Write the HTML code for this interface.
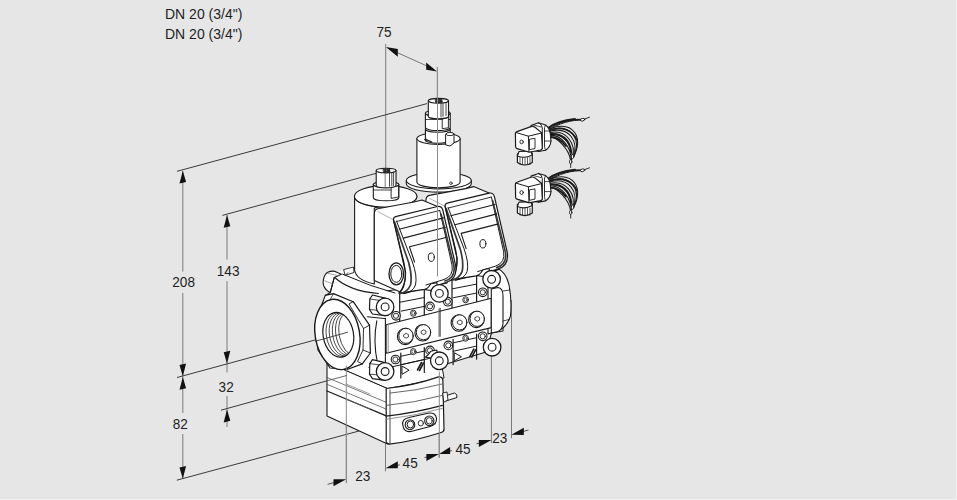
<!DOCTYPE html>
<html><head><meta charset="utf-8">
<style>
html,body{margin:0;padding:0;}
body{width:957px;height:500px;background:#f2f2f2;position:relative;overflow:hidden;font-family:"Liberation Sans",sans-serif;}
#bg{position:absolute;left:0;top:0;width:956px;height:499px;background:#e6e6e6;}
.t{position:absolute;font-size:14px;color:#1e1e1e;line-height:16px;white-space:nowrap;}
svg{position:absolute;left:0;top:0;}
</style></head><body>
<div id="bg"></div>
<div class="t" style="left:165px;top:6px;">DN 20 (3/4")</div>
<div class="t" style="left:165px;top:26px;">DN 20 (3/4")</div>
<svg width="957" height="500" viewBox="0 0 957 500">
<g fill="none" stroke-width="1">
<line x1="385.7" y1="44" x2="385.7" y2="172" stroke="#7a7a7a"/>
<line x1="437.3" y1="67" x2="437.3" y2="98" stroke="#7a7a7a"/>
<line x1="397" y1="52.5" x2="427" y2="66" stroke="#777"/>
<line x1="182.8" y1="171" x2="182.8" y2="271.5" stroke="#7a7a7a"/>
<line x1="182.8" y1="293" x2="182.8" y2="413" stroke="#7a7a7a"/>
<line x1="182.8" y1="434" x2="182.8" y2="479" stroke="#7a7a7a"/>
<line x1="227" y1="215" x2="227" y2="259.6" stroke="#7a7a7a"/>
<line x1="227" y1="281.2" x2="227" y2="372.4" stroke="#7a7a7a"/>
<line x1="227" y1="396" x2="227" y2="427" stroke="#7a7a7a"/>
<line x1="177" y1="171.3" x2="427" y2="103.6" stroke="#3a3a3a"/>
<line x1="222.4" y1="215.4" x2="376.6" y2="173.2" stroke="#3a3a3a"/>
<line x1="177" y1="377.5" x2="326" y2="337" stroke="#3a3a3a"/>
<line x1="221" y1="410.2" x2="326.4" y2="381" stroke="#3a3a3a"/>
<line x1="176.8" y1="480.2" x2="359" y2="431" stroke="#3a3a3a"/>
<line x1="346.4" y1="361" x2="346.4" y2="482.8" stroke="#7a7a7a"/>
<line x1="385.5" y1="444" x2="385.5" y2="471.3" stroke="#7a7a7a"/>
<line x1="439.2" y1="360" x2="439.2" y2="457.6" stroke="#7a7a7a"/>
<line x1="491.4" y1="350" x2="491.4" y2="443" stroke="#7a7a7a"/>
<line x1="511.5" y1="300" x2="511.5" y2="438.2" stroke="#7a7a7a"/>
<line x1="327.6" y1="484.3" x2="334" y2="482.6" stroke="#555"/>
<line x1="397" y1="465.6" x2="399.8" y2="464.8" stroke="#555"/>
<line x1="424.4" y1="457.6" x2="427" y2="456.9" stroke="#555"/>
<line x1="449" y1="451.3" x2="452" y2="450.5" stroke="#555"/>
<line x1="476.4" y1="443.8" x2="479.5" y2="443" stroke="#555"/>
<line x1="523" y1="431.5" x2="528.5" y2="430" stroke="#555"/>
</g>
<g fill="#111">
<polygon points="385.9,47 397.8,49.1 397.8,56.8"/>
<polygon points="437,71.5 426.2,62.4 426.2,69.7"/>
<polygon points="182.8,170.8 179.5,183.6 186.1,182.0"/>
<polygon points="182.8,376.2 179.5,365.0 186.1,363.4"/>
<polygon points="182.8,377.0 179.5,389.8 186.1,388.2"/>
<polygon points="182.8,478.8 179.5,467.6 186.1,466.0"/>
<polygon points="227.0,215.0 223.7,227.8 230.3,226.2"/>
<polygon points="227.0,363.5 223.7,352.3 230.3,350.7"/>
<polygon points="227.0,409.6 223.7,422.4 230.3,420.8"/>
<polygon points="346.2,479.3 333.5,479.2 333.5,486.3"/>
<polygon points="385.6,468.2 397.8,468.3 397.8,461.2"/>
<polygon points="439.1,454.0 426.4,453.9 426.4,461.0"/>
<polygon points="439.1,454.0 450.1,454.1 450.1,447.0"/>
<polygon points="491.5,440.0 478.8,439.9 478.8,447.0"/>
<polygon points="511.3,434.8 523.8,434.9 523.8,427.8"/>
</g>
<g fill="#1e1e1e" font-family="Liberation Sans">
<text transform="translate(376.5 37) scale(1 1.09)" x="0" y="0" font-size="13.6">75</text>
<text transform="translate(172.3 286.5) scale(1 1.09)" x="0" y="0" font-size="13.6">208</text>
<text transform="translate(216.8 275.8) scale(1 1.09)" x="0" y="0" font-size="13.6">143</text>
<text transform="translate(218.6 391.6) scale(1 1.09)" x="0" y="0" font-size="13.6">32</text>
<text transform="translate(172.8 428.9) scale(1 1.09)" x="0" y="0" font-size="13.6">82</text>
<text transform="translate(355.3 481.4) scale(1 1.09)" x="0" y="0" font-size="13.6">23</text>
<text transform="translate(402.6 467.8) scale(1 1.09)" x="0" y="0" font-size="13.6">45</text>
<text transform="translate(455.5 454.1) scale(1 1.09)" x="0" y="0" font-size="13.6">45</text>
<text transform="translate(492.3 443.2) scale(1 1.09)" x="0" y="0" font-size="13.6">23</text>
</g>
<g stroke-linejoin="round" stroke-linecap="round">
<path d="M333,274 L352,266 L380,276 L420,282 L440,285 L440,300 L372,300 L330,290 Z" fill="white" stroke="none" stroke-width="0"/>
<path d="M372,293 L430,285 L497,268 L503,290 L503,331 L491.5,333 L486,352 L440,366 L386,381 L376,377 L372,330 Z" fill="white" stroke="#1a1a1a" stroke-width="1.1"/>
<path d="M488,268 L497,268 Q506,272 509,285 Q512,300 510.5,316 Q507,327 498,331 L488,334 Z" fill="white" stroke="#1a1a1a" stroke-width="1.1"/>
<path d="M406.3,180.6 L406.3,183.8 A32.5,8.3 0 0 0 471.3,183.8 L471.3,180.6 Z" fill="white" stroke="#1a1a1a" stroke-width="1.1"/>
<ellipse cx="438.8" cy="180.6" rx="32.5" ry="8.3" fill="white" stroke="#1a1a1a" stroke-width="1.1"/>
<path d="M416.9,138.6 L416.9,182.0 A21.6,5.8 0 0 0 460.1,182.0 L460.1,138.6 Z" fill="white" stroke="#1a1a1a" stroke-width="1.1"/>
<ellipse cx="438.5" cy="138.6" rx="21.6" ry="5.8" fill="white" stroke="#1a1a1a" stroke-width="1.1"/>
<ellipse cx="450.9" cy="183.2" rx="1.3" ry="1.3" fill="white" stroke="#1a1a1a" stroke-width="0.8"/>
<path d="M425.4,129.0 L425.4,140.0 A12.4,3.2 0 0 0 450.2,140.0 L450.2,129.0 Z" fill="white" stroke="#1a1a1a" stroke-width="1.1"/>
<ellipse cx="437.8" cy="129.0" rx="12.4" ry="3.2" fill="white" stroke="#1a1a1a" stroke-width="1.1"/>
<path d="M425.4,113.2 L425.4,127.6 A12.4,3.0 0 0 0 450.2,127.6 L450.2,113.2 Z" fill="white" stroke="#1a1a1a" stroke-width="1.1"/>
<ellipse cx="437.8" cy="113.2" rx="12.4" ry="3.0" fill="white" stroke="#1a1a1a" stroke-width="1.1"/>
<line x1="425.4" y1="119.5" x2="450.2" y2="119.5" stroke="#1a1a1a" stroke-width="0.8"/>
<path d="M442.6,116.5 L448.4,115.8 L448.4,127.8 L442.6,128.6 Z" fill="white" stroke="#1a1a1a" stroke-width="0.9"/>
<path d="M446,134 L450,132.5 Q454,133 454,135 L454,143 L450,146 L446,145 Z" fill="white" stroke="#1a1a1a" stroke-width="1"/>
<ellipse cx="450.0" cy="134.0" rx="4.0" ry="1.6" fill="white" stroke="#1a1a1a" stroke-width="0.9"/>
<path d="M424.5,139.5 L427,139 L426.5,141 Z" fill="#222" stroke="#1a1a1a" stroke-width="0.6"/>
<line x1="427.5" y1="140.2" x2="431.5" y2="141.8" stroke="#333" stroke-width="1.3"/>
<path d="M428.3,100.8 L428.3,116.4 A10.1,2.4 0 0 0 448.5,116.4 L448.5,100.8 Z" fill="white" stroke="#1a1a1a" stroke-width="1.1"/>
<ellipse cx="438.4" cy="100.8" rx="10.1" ry="2.4" fill="white" stroke="#1a1a1a" stroke-width="1.1"/>
<path d="M435.5,99.5 L441.8,99.2 L442.3,102.3 L436.2,102.7 Z" fill="#333" stroke="#1a1a1a" stroke-width="0.8"/>
<ellipse cx="438.9" cy="101.0" rx="1.3" ry="0.8" fill="#888" stroke="#1a1a1a" stroke-width="0.6"/>
<line x1="441.0" y1="103.0" x2="441.0" y2="117.0" stroke="#1a1a1a" stroke-width="0.8"/>
<line x1="443.0" y1="103.0" x2="443.0" y2="116.5" stroke="#1a1a1a" stroke-width="0.8"/>
<line x1="446.0" y1="102.5" x2="446.0" y2="115.5" stroke="#1a1a1a" stroke-width="0.8"/>
<path d="M425.9,200.6 Q425.9,195.4 430.6,195.1 L465.6,188.6 L473.6,186.6 L492.6,194.6 L503.6,252.6 L498.6,269.6 L455.1,280.1 L425.9,267.1 Z" fill="white" stroke="#1a1a1a" stroke-width="1.1"/>
<line x1="429.6" y1="198.4" x2="444.2" y2="205.9" stroke="#9a9a9a" stroke-width="0.8"/>
<path d="M445.1,206.6 Q444.6,203.6 448.1,202.9 L489.1,193.1 Q493.1,192.4 494.4,196.6 L507.1,251.6 Q509.6,265.6 497.6,269.1 L476.3,275.9 L450.6,279.8 Q457.6,271.6 457.1,258.6 Z" fill="white" stroke="#1a1a1a" stroke-width="1.2"/>
<path d="M448.1,208.1 L491.1,197.1" fill="none" stroke="#1a1a1a" stroke-width="0.9"/>
<path d="M448.1,207.6 L464.0,248.6 Q469.1,262.6 467.1,271.6 Q464.6,278.6 455.6,280.2" fill="none" stroke="#1a1a1a" stroke-width="1.0"/>
<path d="M446.1,208.6 L460.1,248.6 Q464.1,262.6 462.1,271.6 Q459.1,278.6 452.1,280.1" fill="none" stroke="#3a3a3a" stroke-width="1.7"/>
<path d="M445.1,206.6 L455.4,248.6 Q458.6,262.6 455.1,273.6 Q453.1,278.1 450.6,279.8" fill="none" stroke="#1a1a1a" stroke-width="1.1"/>
<path d="M491.4,197.1 L503.6,251.6 Q505.6,262.6 495.6,266.1 L477.6,271.6" fill="none" stroke="#1a1a1a" stroke-width="1.0"/>
<path d="M492.6,200.6 L505.4,252.1 Q507.6,264.1 496.6,267.6" fill="none" stroke="#3a3a3a" stroke-width="1.7"/>
<line x1="450.8" y1="215.8" x2="495.0" y2="204.5" stroke="#1a1a1a" stroke-width="1.1"/>
<line x1="455.0" y1="224.7" x2="496.9" y2="213.9" stroke="#1a1a1a" stroke-width="1.1"/>
<path d="M497.6,224.1 L461.1,233.4 L466.1,248.6" fill="none" stroke="#1a1a1a" stroke-width="1.1"/>
<ellipse cx="482.9" cy="243.8" rx="3.0" ry="4.2" fill="white" stroke="#1a1a1a" stroke-width="1"/>
<path d="M354.6,196.4 L354.6,270 Q356,280 374.3,284 L374.3,208 L417,196.4 Z" fill="white" stroke="#1a1a1a" stroke-width="1.1"/>
<ellipse cx="385.7" cy="196.4" rx="31.3" ry="10.8" fill="white" stroke="#1a1a1a" stroke-width="1.1"/>
<path d="M354.8,198 A31.1,10.6 0 0 0 416.6,198" fill="none" stroke="#1a1a1a" stroke-width="0.8"/>
<path d="M373.3,184.5 L373.3,197.8 A12.8,3.0 0 0 0 398.9,197.8 L398.9,184.5 Z" fill="white" stroke="#1a1a1a" stroke-width="1.1"/>
<ellipse cx="386.1" cy="184.5" rx="12.8" ry="3.0" fill="white" stroke="#1a1a1a" stroke-width="1.1"/>
<line x1="373.3" y1="190.0" x2="398.9" y2="190.0" stroke="#1a1a1a" stroke-width="0.8"/>
<path d="M391.5,187 L398.5,186 L398.5,197 L391.5,198.3 Z" fill="white" stroke="#1a1a1a" stroke-width="0.9"/>
<path d="M376.2,170.6 L376.2,185.6 A9.9,2.3 0 0 0 396.0,185.6 L396.0,170.6 Z" fill="white" stroke="#1a1a1a" stroke-width="1.1"/>
<ellipse cx="386.1" cy="170.6" rx="9.9" ry="2.3" fill="white" stroke="#1a1a1a" stroke-width="1.1"/>
<path d="M383.3,169.3 L389.5,169 L390,172 L384,172.5 Z" fill="#333" stroke="#1a1a1a" stroke-width="0.8"/>
<ellipse cx="386.6" cy="170.7" rx="1.3" ry="0.8" fill="#888" stroke="#1a1a1a" stroke-width="0.6"/>
<line x1="385.2" y1="172.8" x2="385.2" y2="186.5" stroke="#444" stroke-width="0.7"/>
<line x1="389.5" y1="172.5" x2="389.5" y2="186.3" stroke="#1a1a1a" stroke-width="0.8"/>
<line x1="391.8" y1="172.4" x2="391.8" y2="186.0" stroke="#1a1a1a" stroke-width="0.8"/>
<line x1="393.6" y1="172.0" x2="393.6" y2="185.5" stroke="#1a1a1a" stroke-width="0.8"/>
<path d="M374.3,214.0 Q374.3,208.8 379.0,208.5 L414.0,202.0 L422.0,200.0 L441.0,208.0 L452.0,266.0 L447.0,283.0 L403.5,293.5 L374.3,280.5 Z" fill="white" stroke="#1a1a1a" stroke-width="1.1"/>
<line x1="378.0" y1="211.8" x2="392.6" y2="219.3" stroke="#9a9a9a" stroke-width="0.8"/>
<path d="M393.5,220.0 Q393.0,217.0 396.5,216.3 L437.5,206.5 Q441.5,205.8 442.8,210.0 L455.5,265.0 Q458.0,279.0 446.0,282.5 L424.7,289.3 L399.0,293.2 Q406.0,285.0 405.5,272.0 Z" fill="white" stroke="#1a1a1a" stroke-width="1.2"/>
<path d="M396.5,221.5 L439.5,210.5" fill="none" stroke="#1a1a1a" stroke-width="0.9"/>
<path d="M396.5,221.0 L412.4,262.0 Q417.5,276.0 415.5,285.0 Q413.0,292.0 404.0,293.6" fill="none" stroke="#1a1a1a" stroke-width="1.0"/>
<path d="M394.5,222.0 L408.5,262.0 Q412.5,276.0 410.5,285.0 Q407.5,292.0 400.5,293.5" fill="none" stroke="#3a3a3a" stroke-width="1.7"/>
<path d="M393.5,220.0 L403.8,262.0 Q407.0,276.0 403.5,287.0 Q401.5,291.5 399.0,293.2" fill="none" stroke="#1a1a1a" stroke-width="1.1"/>
<path d="M439.8,210.5 L452.0,265.0 Q454.0,276.0 444.0,279.5 L426.0,285.0" fill="none" stroke="#1a1a1a" stroke-width="1.0"/>
<path d="M441.0,214.0 L453.8,265.5 Q456.0,277.5 445.0,281.0" fill="none" stroke="#3a3a3a" stroke-width="1.7"/>
<line x1="399.2" y1="229.2" x2="443.4" y2="217.9" stroke="#1a1a1a" stroke-width="1.1"/>
<line x1="403.4" y1="238.1" x2="445.3" y2="227.3" stroke="#1a1a1a" stroke-width="1.1"/>
<path d="M446.0,237.5 L409.5,246.8 L414.5,262.0" fill="none" stroke="#1a1a1a" stroke-width="1.1"/>
<ellipse cx="431.3" cy="257.2" rx="3.0" ry="4.2" fill="white" stroke="#1a1a1a" stroke-width="1"/>
<ellipse cx="396.3" cy="273.9" rx="7.3" ry="11.0" fill="white" stroke="#1a1a1a" stroke-width="1.3"/>
<ellipse cx="396.3" cy="273.9" rx="5.5" ry="8.5" fill="white" stroke="#1a1a1a" stroke-width="1"/>
<path d="M327,362 L388.1,388.5 L388.1,444.2 L327,416 Z" fill="white" stroke="#1a1a1a" stroke-width="1.1"/>
<path d="M327,362 L335,357 L378,370 L440,356 L444,378 L388.1,388.5 Z" fill="white" stroke="#1a1a1a" stroke-width="1.0"/>
<line x1="327.0" y1="377.5" x2="388.1" y2="403.1" stroke="#555" stroke-width="0.8"/>
<line x1="327.0" y1="384.3" x2="388.1" y2="409.9" stroke="#555" stroke-width="0.8"/>
<line x1="327.0" y1="391.0" x2="388.1" y2="416.6" stroke="#1a1a1a" stroke-width="1.3"/>
<line x1="346.0" y1="384.0" x2="370.0" y2="394.0" stroke="#777" stroke-width="0.7"/>
<line x1="346.0" y1="399.0" x2="370.0" y2="409.0" stroke="#777" stroke-width="0.7"/>
<path d="M386.2,388.5 Q412,386 438.6,376.9 Q442.9,376.5 442.9,381 L444,429.3 Q444,432 441,432.5 Q415,441 389.2,444.2 L386.2,442.4 Z" fill="white" stroke="#1a1a1a" stroke-width="1.2"/>
<line x1="390.0" y1="390.0" x2="390.0" y2="443.5" stroke="#1a1a1a" stroke-width="0.8"/>
<path d="M390,393.1 Q416,391 442.4,383.9" fill="none" stroke="#555" stroke-width="0.9"/>
<path d="M386.2,405.4 Q414,403 442.4,395.4" fill="none" stroke="#555" stroke-width="0.9"/>
<path d="M386.2,416.2 Q414,413 442.4,405.4" fill="none" stroke="#1a1a1a" stroke-width="1.3"/>
<path d="M386.2,419.3 Q414,416 442.4,408.4" fill="none" stroke="#777" stroke-width="0.8"/>
<path d="M403,426 Q401,419 409,417.5 L428,413.2 Q436,412 436.5,418.5 Q437,424.5 430,426.5 L411,431.5 Q404,432.5 403,426 Z" fill="white" stroke="#1a1a1a" stroke-width="1.1"/>
<ellipse cx="410.0" cy="424.7" rx="4.8" ry="5.0" fill="white" stroke="#1a1a1a" stroke-width="1.1"/>
<ellipse cx="410.4" cy="424.5" rx="3.2" ry="3.5" fill="white" stroke="#1a1a1a" stroke-width="1"/>
<ellipse cx="420.8" cy="423.2" rx="2.6" ry="2.8" fill="white" stroke="#1a1a1a" stroke-width="0.9"/>
<ellipse cx="429.3" cy="420.8" rx="4.6" ry="4.8" fill="white" stroke="#1a1a1a" stroke-width="1.1"/>
<ellipse cx="429.3" cy="420.8" rx="3.0" ry="3.2" fill="white" stroke="#1a1a1a" stroke-width="0.9"/>
<path d="M445,396 L454.5,393 Q457.5,394 457,397.5 L446,401 Z" fill="white" stroke="#1a1a1a" stroke-width="1"/>
<path d="M443,393 L447,392 L448,400 L444,402 Z" fill="white" stroke="#1a1a1a" stroke-width="0.9"/>
<path d="M386.1,324.7 L491.3,298.3 L491.3,327.6 L386.1,353.2 Z" fill="white" stroke="#1a1a1a" stroke-width="1.1"/>
<line x1="440.0" y1="308.4" x2="440.0" y2="336.3" stroke="#1a1a1a" stroke-width="1.1"/>
<line x1="438.6" y1="309.0" x2="438.6" y2="336.5" stroke="#888" stroke-width="0.7"/>
<line x1="388.2" y1="324.5" x2="388.2" y2="352.8" stroke="#777" stroke-width="0.8"/>
<path d="M491.3,289 L498,287.5 Q503,288 503,296 L503,324 Q502,331 496,332 L491.3,333 Z" fill="white" stroke="#1a1a1a" stroke-width="1.1"/>
<line x1="503.0" y1="291.0" x2="510.0" y2="290.0" stroke="#1a1a1a" stroke-width="0.8"/>
<line x1="503.0" y1="321.0" x2="509.0" y2="319.5" stroke="#1a1a1a" stroke-width="0.8"/>
<line x1="399.7" y1="294.0" x2="399.7" y2="321.2" stroke="#1a1a1a" stroke-width="1.2"/>
<line x1="424.3" y1="289.5" x2="424.3" y2="315.0" stroke="#1a1a1a" stroke-width="1.2"/>
<line x1="400.2" y1="302.2" x2="424.3" y2="297.5" stroke="#1a1a1a" stroke-width="1"/>
<line x1="401.3" y1="311.1" x2="424.3" y2="306.4" stroke="#1a1a1a" stroke-width="1"/>
<ellipse cx="413.3" cy="313.2" rx="2.8" ry="3.1" fill="white" stroke="#1a1a1a" stroke-width="0.9"/>
<ellipse cx="413.3" cy="313.2" rx="1.5" ry="1.8" fill="white" stroke="#1a1a1a" stroke-width="0.7"/>
<line x1="400.8" y1="353.0" x2="400.8" y2="378.0" stroke="#1a1a1a" stroke-width="1.2"/>
<line x1="424.3" y1="347.5" x2="424.3" y2="372.5" stroke="#1a1a1a" stroke-width="1.2"/>
<line x1="400.8" y1="356.3" x2="424.3" y2="351.1" stroke="#1a1a1a" stroke-width="1"/>
<line x1="400.8" y1="364.7" x2="424.3" y2="359.5" stroke="#1a1a1a" stroke-width="1"/>
<ellipse cx="413.3" cy="351.6" rx="2.8" ry="3.1" fill="white" stroke="#1a1a1a" stroke-width="0.9"/>
<ellipse cx="413.3" cy="351.6" rx="1.5" ry="1.8" fill="white" stroke="#1a1a1a" stroke-width="0.7"/>
<path d="M402.3,366.3 L409.1,370.2 L402.3,374.1 Z" fill="none" stroke="#1a1a1a" stroke-width="1"/>
<line x1="417.5" y1="370.0" x2="421.5" y2="362.5" stroke="#1a1a1a" stroke-width="1.6"/>
<line x1="419.5" y1="370.5" x2="423.5" y2="363.0" stroke="#1a1a1a" stroke-width="1.6"/>
<ellipse cx="405.2" cy="336.4" rx="7.8" ry="8.2" fill="white" stroke="#1a1a1a" stroke-width="1.1"/>
<ellipse cx="406.0" cy="335.8" rx="7.2" ry="7.6" fill="white" stroke="#1a1a1a" stroke-width="1.0"/>
<path d="M404.0,334.6 l2.2,-1.2 l2.2,1.2 l0,2.4 l-2.2,1.2 l-2.2,-1.2 Z" fill="none" stroke="#1a1a1a" stroke-width="0.8"/>
<ellipse cx="422.7" cy="332.8" rx="7.8" ry="8.2" fill="white" stroke="#1a1a1a" stroke-width="1.1"/>
<ellipse cx="423.5" cy="332.2" rx="7.2" ry="7.6" fill="white" stroke="#1a1a1a" stroke-width="1.0"/>
<path d="M421.5,331.0 l2.2,-1.2 l2.2,1.2 l0,2.4 l-2.2,1.2 l-2.2,-1.2 Z" fill="none" stroke="#1a1a1a" stroke-width="0.8"/>
<line x1="452.0" y1="280.6" x2="452.0" y2="307.8" stroke="#1a1a1a" stroke-width="1.2"/>
<line x1="476.6" y1="276.1" x2="476.6" y2="301.6" stroke="#1a1a1a" stroke-width="1.2"/>
<line x1="452.5" y1="288.8" x2="476.6" y2="284.1" stroke="#1a1a1a" stroke-width="1"/>
<line x1="453.6" y1="297.7" x2="476.6" y2="293.0" stroke="#1a1a1a" stroke-width="1"/>
<ellipse cx="465.6" cy="299.8" rx="2.8" ry="3.1" fill="white" stroke="#1a1a1a" stroke-width="0.9"/>
<ellipse cx="465.6" cy="299.8" rx="1.5" ry="1.8" fill="white" stroke="#1a1a1a" stroke-width="0.7"/>
<line x1="453.1" y1="339.6" x2="453.1" y2="364.6" stroke="#1a1a1a" stroke-width="1.2"/>
<line x1="476.6" y1="334.1" x2="476.6" y2="359.1" stroke="#1a1a1a" stroke-width="1.2"/>
<line x1="453.1" y1="342.9" x2="476.6" y2="337.7" stroke="#1a1a1a" stroke-width="1"/>
<line x1="453.1" y1="351.3" x2="476.6" y2="346.1" stroke="#1a1a1a" stroke-width="1"/>
<ellipse cx="465.6" cy="338.2" rx="2.8" ry="3.1" fill="white" stroke="#1a1a1a" stroke-width="0.9"/>
<ellipse cx="465.6" cy="338.2" rx="1.5" ry="1.8" fill="white" stroke="#1a1a1a" stroke-width="0.7"/>
<path d="M454.6,352.9 L461.4,356.8 L454.6,360.7 Z" fill="none" stroke="#1a1a1a" stroke-width="1"/>
<line x1="469.8" y1="356.6" x2="473.8" y2="349.1" stroke="#1a1a1a" stroke-width="1.6"/>
<line x1="471.8" y1="357.1" x2="475.8" y2="349.6" stroke="#1a1a1a" stroke-width="1.6"/>
<ellipse cx="458.9" cy="323.0" rx="7.8" ry="8.2" fill="white" stroke="#1a1a1a" stroke-width="1.1"/>
<ellipse cx="459.7" cy="322.4" rx="7.2" ry="7.6" fill="white" stroke="#1a1a1a" stroke-width="1.0"/>
<path d="M457.7,321.2 l2.2,-1.2 l2.2,1.2 l0,2.4 l-2.2,1.2 l-2.2,-1.2 Z" fill="none" stroke="#1a1a1a" stroke-width="0.8"/>
<ellipse cx="476.4" cy="319.4" rx="7.8" ry="8.2" fill="white" stroke="#1a1a1a" stroke-width="1.1"/>
<ellipse cx="477.2" cy="318.8" rx="7.2" ry="7.6" fill="white" stroke="#1a1a1a" stroke-width="1.0"/>
<path d="M475.2,317.6 l2.2,-1.2 l2.2,1.2 l0,2.4 l-2.2,1.2 l-2.2,-1.2 Z" fill="none" stroke="#1a1a1a" stroke-width="0.8"/>
<ellipse cx="396.0" cy="315.8" rx="4.3" ry="4.3" fill="white" stroke="#1a1a1a" stroke-width="1.1"/>
<ellipse cx="396.0" cy="315.8" rx="2.6" ry="2.6" fill="white" stroke="#1a1a1a" stroke-width="0.9"/>
<ellipse cx="430.0" cy="306.4" rx="4.3" ry="4.3" fill="white" stroke="#1a1a1a" stroke-width="1.1"/>
<ellipse cx="430.0" cy="306.4" rx="2.6" ry="2.6" fill="white" stroke="#1a1a1a" stroke-width="0.9"/>
<ellipse cx="447.8" cy="301.7" rx="4.3" ry="4.3" fill="white" stroke="#1a1a1a" stroke-width="1.1"/>
<ellipse cx="447.8" cy="301.7" rx="2.6" ry="2.6" fill="white" stroke="#1a1a1a" stroke-width="0.9"/>
<ellipse cx="482.8" cy="292.3" rx="4.3" ry="4.3" fill="white" stroke="#1a1a1a" stroke-width="1.1"/>
<ellipse cx="482.8" cy="292.3" rx="2.6" ry="2.6" fill="white" stroke="#1a1a1a" stroke-width="0.9"/>
<ellipse cx="395.5" cy="359.5" rx="4.3" ry="4.3" fill="white" stroke="#1a1a1a" stroke-width="1.1"/>
<ellipse cx="395.5" cy="359.5" rx="2.6" ry="2.6" fill="white" stroke="#1a1a1a" stroke-width="0.9"/>
<ellipse cx="430.0" cy="350.4" rx="4.3" ry="4.3" fill="white" stroke="#1a1a1a" stroke-width="1.1"/>
<ellipse cx="430.0" cy="350.4" rx="2.6" ry="2.6" fill="white" stroke="#1a1a1a" stroke-width="0.9"/>
<ellipse cx="448.3" cy="345.4" rx="4.3" ry="4.3" fill="white" stroke="#1a1a1a" stroke-width="1.1"/>
<ellipse cx="448.3" cy="345.4" rx="2.6" ry="2.6" fill="white" stroke="#1a1a1a" stroke-width="0.9"/>
<ellipse cx="482.7" cy="336.3" rx="4.3" ry="4.3" fill="white" stroke="#1a1a1a" stroke-width="1.1"/>
<ellipse cx="482.7" cy="336.3" rx="2.6" ry="2.6" fill="white" stroke="#1a1a1a" stroke-width="0.9"/>
<path d="M325.3,295.4 L330.4,292.5 L334.2,277 L377,293 L378,362 L360,372 L330,366 Z" fill="white" stroke="none" stroke-width="0"/>
<line x1="330.4" y1="292.5" x2="325.3" y2="295.4" stroke="#1a1a1a" stroke-width="1.1"/>
<path d="M334.2,277 L342.6,274.2 L372,286 L392,293 L378.4,294 Z" fill="white" stroke="none" stroke-width="0"/>
<path d="M342.6,274.2 L370.9,285.5 L395,293" fill="none" stroke="#1a1a1a" stroke-width="1.0"/>
<path d="M334.2,277 Q349,291 378.4,293.5" fill="none" stroke="#1a1a1a" stroke-width="1.1"/>
<path d="M334.2,277.6 L341.4,274.2 L335,271.4 Q328.5,270.3 325.3,274.5 Q322.2,280 323.6,285.5 Q325.5,290.5 330.3,292.4 Z" fill="white" stroke="#1a1a1a" stroke-width="1.1"/>
<path d="M334.2,277.6 L330.3,292.4" fill="none" stroke="#1a1a1a" stroke-width="1.1"/>
<line x1="327.5" y1="273.2" x2="338.8" y2="275.8" stroke="#777" stroke-width="0.7"/>
<line x1="324.8" y1="280.8" x2="332.3" y2="283.7" stroke="#777" stroke-width="0.7"/>
<path d="M344,269.5 L353.5,267 L354,272.5 L345.5,275.2 Z" fill="white" stroke="#1a1a1a" stroke-width="0.9"/>
<line x1="345.5" y1="275.2" x2="348.0" y2="272.5" stroke="#1a1a1a" stroke-width="0.7"/>
<path d="M325.3,295.4 L333.4,293.6 L353.2,301.7 L369.5,325.1 L370.4,353 L362.3,363.9 L347.8,369.3 L330,368 L318,350 L316,320 Z" fill="white" stroke="#1a1a1a" stroke-width="1.2"/>
<path d="M353.2,301.7 L349,304 L363.5,328.5 L363,350 L357.5,361.5 L362.3,363.9" fill="none" stroke="#1a1a1a" stroke-width="0.9"/>
<line x1="363.5" y1="328.5" x2="369.5" y2="325.1" stroke="#1a1a1a" stroke-width="0.9"/>
<line x1="363.0" y1="350.0" x2="370.4" y2="353.0" stroke="#1a1a1a" stroke-width="0.9"/>
<line x1="333.4" y1="293.6" x2="330.5" y2="299.0" stroke="#1a1a1a" stroke-width="0.8"/>
<ellipse cx="337.4" cy="334.4" rx="22.2" ry="35.5" fill="white" stroke="#1a1a1a" stroke-width="1.4" transform="rotate(-10 337.4 334.4)"/>
<ellipse cx="338.3" cy="334.8" rx="15.2" ry="22.6" fill="white" stroke="#1a1a1a" stroke-width="1.2" transform="rotate(-10 338.3 334.8)"/>
<clipPath id="holeclip"><ellipse cx="338.3" cy="334.8" rx="15.2" ry="22.6" transform="rotate(-10 338.3 334.8)"/></clipPath>
<g clip-path="url(#holeclip)">
<ellipse cx="340.6" cy="334.6" rx="14.3" ry="22.2" fill="none" stroke="#1a1a1a" stroke-width="0.75" transform="rotate(-10 340.6 334.6)"/>
<ellipse cx="342.9" cy="334.4" rx="13.4" ry="21.8" fill="none" stroke="#1a1a1a" stroke-width="0.75" transform="rotate(-10 342.9 334.4)"/>
<ellipse cx="345.2" cy="334.2" rx="12.5" ry="21.4" fill="none" stroke="#1a1a1a" stroke-width="0.75" transform="rotate(-10 345.2 334.2)"/>
<ellipse cx="347.5" cy="334.0" rx="11.6" ry="21.0" fill="none" stroke="#1a1a1a" stroke-width="0.75" transform="rotate(-10 347.5 334.0)"/>
<ellipse cx="349.8" cy="333.8" rx="10.7" ry="20.6" fill="none" stroke="#1a1a1a" stroke-width="0.75" transform="rotate(-10 349.8 333.8)"/>
</g>
<line x1="315.5" y1="341.2" x2="347.5" y2="332.3" stroke="#333" stroke-width="0.9"/>
<path d="M370,317 L385.4,318.6 L385.4,364 L370,364 Q377.5,361 377.4,356 Q373.2,340 376.6,321 Q374,318.5 370,317 Z" fill="white" stroke="none" stroke-width="0"/>
<line x1="367.5" y1="316.8" x2="385.4" y2="318.6" stroke="#1a1a1a" stroke-width="1.0"/>
<path d="M376.8,320.8 Q372.8,341 377.4,362.5" fill="none" stroke="#1a1a1a" stroke-width="1.1"/>
<line x1="385.4" y1="318.4" x2="385.4" y2="364.5" stroke="#1a1a1a" stroke-width="1.1"/>
<line x1="369.4" y1="364.0" x2="385.4" y2="364.6" stroke="#1a1a1a" stroke-width="1.0"/>
<path d="M385.1,298.1 L372.5,295.0 L369.8,299.0 L369.5,309.5 L372.5,314.0 L385.1,315.7 Z" fill="white" stroke="#1a1a1a" stroke-width="1.2"/>
<line x1="369.8" y1="299.0" x2="383.1" y2="300.9" stroke="#1a1a1a" stroke-width="0.8"/>
<line x1="369.5" y1="309.5" x2="379.1" y2="310.4" stroke="#1a1a1a" stroke-width="0.8"/>
<ellipse cx="385.1" cy="306.9" rx="8.8" ry="8.8" fill="white" stroke="#1a1a1a" stroke-width="1.3"/>
<ellipse cx="385.1" cy="306.9" rx="3.9" ry="3.9" fill="white" stroke="#1a1a1a" stroke-width="1.1"/>
<path d="M425.4,289.8 Q428.9,287.4 430.9,283.8 L437.0,282.6 L437.6,291.4 Z" fill="white" stroke="#1a1a1a" stroke-width="1.1"/>
<ellipse cx="439.4" cy="293.4" rx="8.8" ry="8.8" fill="white" stroke="#1a1a1a" stroke-width="1.3"/>
<ellipse cx="439.4" cy="293.4" rx="3.9" ry="3.9" fill="white" stroke="#1a1a1a" stroke-width="1.1"/>
<path d="M477.6,275.7 Q481.1,273.3 483.1,269.7 L489.2,268.5 L489.8,277.3 Z" fill="white" stroke="#1a1a1a" stroke-width="1.1"/>
<ellipse cx="491.6" cy="279.3" rx="8.8" ry="8.8" fill="white" stroke="#1a1a1a" stroke-width="1.3"/>
<ellipse cx="491.6" cy="279.3" rx="3.9" ry="3.9" fill="white" stroke="#1a1a1a" stroke-width="1.1"/>
<path d="M425.3,357.2 Q428.8,354.8 430.8,351.2 L436.9,350.0 L437.5,358.8 Z" fill="white" stroke="#1a1a1a" stroke-width="1.1"/>
<ellipse cx="439.3" cy="360.8" rx="8.8" ry="8.8" fill="white" stroke="#1a1a1a" stroke-width="1.3"/>
<ellipse cx="439.3" cy="360.8" rx="3.9" ry="3.9" fill="white" stroke="#1a1a1a" stroke-width="1.1"/>
<ellipse cx="492.1" cy="347.2" rx="8.8" ry="8.8" fill="white" stroke="#1a1a1a" stroke-width="1.3"/>
<ellipse cx="492.1" cy="347.2" rx="3.9" ry="3.9" fill="white" stroke="#1a1a1a" stroke-width="1.1"/>
<path d="M385.1,362.7 L372.5,359.6 L369.8,363.6 L369.5,374.1 L372.5,378.6 L385.1,380.3 Z" fill="white" stroke="#1a1a1a" stroke-width="1.2"/>
<line x1="369.8" y1="363.6" x2="383.1" y2="365.5" stroke="#1a1a1a" stroke-width="0.8"/>
<line x1="369.5" y1="374.1" x2="379.1" y2="375.0" stroke="#1a1a1a" stroke-width="0.8"/>
<ellipse cx="385.1" cy="371.5" rx="8.8" ry="8.8" fill="white" stroke="#1a1a1a" stroke-width="1.3"/>
<ellipse cx="385.1" cy="371.5" rx="3.9" ry="3.9" fill="white" stroke="#1a1a1a" stroke-width="1.1"/>
<path d="M548.0,128.5 C558.0,121.0 572.0,118.5 583.0,119.5" fill="none" stroke="#1a1a1a" stroke-width="1.0"/>
<path d="M548.0,129.8 C558.0,122.0 572.0,119.1 583.0,119.8" fill="none" stroke="#1a1a1a" stroke-width="1.0"/>
<path d="M548.0,131.1 C558.0,123.0 572.0,119.7 583.0,120.1" fill="none" stroke="#1a1a1a" stroke-width="1.0"/>
<line x1="583.0" y1="119.6" x2="589.5" y2="117.2" stroke="#1a1a1a" stroke-width="0.9"/>
<path d="M548.0,128.0 C556.0,122.0 566.0,120.0 575.0,119.0" fill="none" stroke="#1a1a1a" stroke-width="1.8"/>
<path d="M550.0,128.5 C574.0,120.0 584.0,138.0 573.5,157.0" fill="none" stroke="#1a1a1a" stroke-width="1.05"/>
<path d="M550.0,129.9 C572.0,123.0 582.0,140.0 573.0,157.5" fill="none" stroke="#1a1a1a" stroke-width="1.05"/>
<path d="M550.0,131.3 C569.0,126.0 580.0,142.0 572.5,157.0" fill="none" stroke="#1a1a1a" stroke-width="1.05"/>
<path d="M550.0,132.7 C566.0,129.0 577.0,144.0 572.0,158.0" fill="none" stroke="#1a1a1a" stroke-width="1.05"/>
<path d="M550.0,134.1 C563.0,132.0 574.0,146.0 571.5,160.0" fill="none" stroke="#1a1a1a" stroke-width="1.05"/>
<path d="M550.0,135.5 C560.0,134.0 572.0,147.0 571.0,161.0" fill="none" stroke="#1a1a1a" stroke-width="1.05"/>
<path d="M550.0,136.9 C557.0,137.0 569.0,149.0 570.5,160.0" fill="none" stroke="#1a1a1a" stroke-width="1.05"/>
<path d="M550.0,134.0 C562.0,133.0 570.0,140.0 571.0,152.0" fill="none" stroke="#1a1a1a" stroke-width="2.0"/>
<path d="M550.0,130.0 C562.0,126.0 572.0,130.0 577.0,140.0" fill="none" stroke="#1a1a1a" stroke-width="1.8"/>
<path d="M550.0,137.0 C556.0,137.0 562.0,141.0 566.0,146.0" fill="none" stroke="#1a1a1a" stroke-width="1.8"/>
<ellipse cx="582.5" cy="119.7" rx="2.3" ry="1.3" fill="white" stroke="#1a1a1a" stroke-width="0.9" transform="rotate(-12 582.5 119.7)"/>
<ellipse cx="572.6" cy="156.6" rx="1.2" ry="2.1" fill="white" stroke="#1a1a1a" stroke-width="0.9"/>
<ellipse cx="570.7" cy="161.8" rx="1.2" ry="2.1" fill="white" stroke="#1a1a1a" stroke-width="0.9"/>
<line x1="570.7" y1="164.0" x2="570.7" y2="167.5" stroke="#1a1a1a" stroke-width="0.9"/>
<path d="M517.4,154.0 L517.4,162.5 Q524.8,167.5 532.3,162.5 L532.3,153.0 Q524.8,149.0 517.4,154.0 Z" fill="white" stroke="#1a1a1a" stroke-width="1.2"/>
<path d="M519.0,151.5 L530.5,151.0 L532.3,155.0 Q524.8,159.0 517.4,156.0 Z" fill="white" stroke="#1a1a1a" stroke-width="1.1"/>
<line x1="520.0" y1="157.5" x2="520.0" y2="164.5" stroke="#333" stroke-width="0.8"/>
<line x1="522.5" y1="157.5" x2="522.5" y2="164.5" stroke="#333" stroke-width="0.8"/>
<line x1="525.0" y1="157.5" x2="525.0" y2="164.5" stroke="#333" stroke-width="0.8"/>
<line x1="527.5" y1="157.5" x2="527.5" y2="164.5" stroke="#333" stroke-width="0.8"/>
<line x1="530.0" y1="157.5" x2="530.0" y2="164.5" stroke="#333" stroke-width="0.8"/>
<path d="M531.0,125.5 L538.5,122.8 L545.5,125.0 Q549.5,128.0 550.3,134.0 L551.0,141.0 Q550.5,147.0 545.5,150.3 L538.5,151.5 L531.0,150.0 Z" fill="white" stroke="#1a1a1a" stroke-width="1.1"/>
<path d="M538.5,122.8 Q542.0,124.0 542.3,128.0 L542.3,149.0 Q541.0,151.0 538.5,151.5" fill="none" stroke="#1a1a1a" stroke-width="1.0"/>
<path d="M545.5,125.0 Q544.0,127.0 544.5,131.0 L544.5,146.0 Q545.0,149.0 545.5,150.3" fill="none" stroke="#1a1a1a" stroke-width="0.9"/>
<line x1="544.5" y1="131.0" x2="550.3" y2="131.0" stroke="#1a1a1a" stroke-width="0.8"/>
<line x1="544.5" y1="141.0" x2="551.0" y2="141.0" stroke="#1a1a1a" stroke-width="0.8"/>
<line x1="533.0" y1="124.8" x2="541.0" y2="127.0" stroke="#1a1a1a" stroke-width="0.8"/>
<path d="M515.4,133.5 Q515.4,132.1 517.0,131.6 L531.0,126.6 Q533.0,126.0 535.0,127.3 L541.5,132.6 L542.3,147.8 Q542.5,149.5 540.5,150.0 L530.0,152.0 Q528.5,152.2 527.0,151.5 L517.0,148.6 Q515.6,148.2 515.6,146.5 Z" fill="white" stroke="#1a1a1a" stroke-width="1.2"/>
<path d="M516.0,132.5 L528.4,136.2 L541.5,133.0" fill="none" stroke="#1a1a1a" stroke-width="1.0"/>
<line x1="528.4" y1="136.2" x2="529.0" y2="151.8" stroke="#1a1a1a" stroke-width="1.0"/>
<ellipse cx="521.6" cy="141.9" rx="1.7" ry="1.9" fill="white" stroke="#1a1a1a" stroke-width="0.9"/>
<path d="M529.8,139.2 L535.0,138.3 L535.0,148.5 L529.8,149.6 Z" fill="none" stroke="#1a1a1a" stroke-width="0.9"/>
<path d="M548.0,179.1 C558.0,171.6 572.0,169.1 583.0,170.1" fill="none" stroke="#1a1a1a" stroke-width="1.0"/>
<path d="M548.0,180.4 C558.0,172.6 572.0,169.7 583.0,170.4" fill="none" stroke="#1a1a1a" stroke-width="1.0"/>
<path d="M548.0,181.7 C558.0,173.6 572.0,170.3 583.0,170.7" fill="none" stroke="#1a1a1a" stroke-width="1.0"/>
<line x1="583.0" y1="170.2" x2="589.5" y2="167.8" stroke="#1a1a1a" stroke-width="0.9"/>
<path d="M548.0,178.6 C556.0,172.6 566.0,170.6 575.0,169.6" fill="none" stroke="#1a1a1a" stroke-width="1.8"/>
<path d="M550.0,179.1 C574.0,170.6 584.0,188.6 573.5,207.6" fill="none" stroke="#1a1a1a" stroke-width="1.05"/>
<path d="M550.0,180.5 C572.0,173.6 582.0,190.6 573.0,208.1" fill="none" stroke="#1a1a1a" stroke-width="1.05"/>
<path d="M550.0,181.9 C569.0,176.6 580.0,192.6 572.5,207.6" fill="none" stroke="#1a1a1a" stroke-width="1.05"/>
<path d="M550.0,183.3 C566.0,179.6 577.0,194.6 572.0,208.6" fill="none" stroke="#1a1a1a" stroke-width="1.05"/>
<path d="M550.0,184.7 C563.0,182.6 574.0,196.6 571.5,210.6" fill="none" stroke="#1a1a1a" stroke-width="1.05"/>
<path d="M550.0,186.1 C560.0,184.6 572.0,197.6 571.0,211.6" fill="none" stroke="#1a1a1a" stroke-width="1.05"/>
<path d="M550.0,187.5 C557.0,187.6 569.0,199.6 570.5,210.6" fill="none" stroke="#1a1a1a" stroke-width="1.05"/>
<path d="M550.0,184.6 C562.0,183.6 570.0,190.6 571.0,202.6" fill="none" stroke="#1a1a1a" stroke-width="2.0"/>
<path d="M550.0,180.6 C562.0,176.6 572.0,180.6 577.0,190.6" fill="none" stroke="#1a1a1a" stroke-width="1.8"/>
<path d="M550.0,187.6 C556.0,187.6 562.0,191.6 566.0,196.6" fill="none" stroke="#1a1a1a" stroke-width="1.8"/>
<ellipse cx="582.5" cy="170.3" rx="2.3" ry="1.3" fill="white" stroke="#1a1a1a" stroke-width="0.9" transform="rotate(-12 582.5 170.3)"/>
<ellipse cx="572.6" cy="207.2" rx="1.2" ry="2.1" fill="white" stroke="#1a1a1a" stroke-width="0.9"/>
<ellipse cx="570.7" cy="212.4" rx="1.2" ry="2.1" fill="white" stroke="#1a1a1a" stroke-width="0.9"/>
<line x1="570.7" y1="214.6" x2="570.7" y2="218.1" stroke="#1a1a1a" stroke-width="0.9"/>
<path d="M517.4,204.6 L517.4,213.1 Q524.8,218.1 532.3,213.1 L532.3,203.6 Q524.8,199.6 517.4,204.6 Z" fill="white" stroke="#1a1a1a" stroke-width="1.2"/>
<path d="M519.0,202.1 L530.5,201.6 L532.3,205.6 Q524.8,209.6 517.4,206.6 Z" fill="white" stroke="#1a1a1a" stroke-width="1.1"/>
<line x1="520.0" y1="208.1" x2="520.0" y2="215.1" stroke="#333" stroke-width="0.8"/>
<line x1="522.5" y1="208.1" x2="522.5" y2="215.1" stroke="#333" stroke-width="0.8"/>
<line x1="525.0" y1="208.1" x2="525.0" y2="215.1" stroke="#333" stroke-width="0.8"/>
<line x1="527.5" y1="208.1" x2="527.5" y2="215.1" stroke="#333" stroke-width="0.8"/>
<line x1="530.0" y1="208.1" x2="530.0" y2="215.1" stroke="#333" stroke-width="0.8"/>
<path d="M531.0,176.1 L538.5,173.4 L545.5,175.6 Q549.5,178.6 550.3,184.6 L551.0,191.6 Q550.5,197.6 545.5,200.9 L538.5,202.1 L531.0,200.6 Z" fill="white" stroke="#1a1a1a" stroke-width="1.1"/>
<path d="M538.5,173.4 Q542.0,174.6 542.3,178.6 L542.3,199.6 Q541.0,201.6 538.5,202.1" fill="none" stroke="#1a1a1a" stroke-width="1.0"/>
<path d="M545.5,175.6 Q544.0,177.6 544.5,181.6 L544.5,196.6 Q545.0,199.6 545.5,200.9" fill="none" stroke="#1a1a1a" stroke-width="0.9"/>
<line x1="544.5" y1="181.6" x2="550.3" y2="181.6" stroke="#1a1a1a" stroke-width="0.8"/>
<line x1="544.5" y1="191.6" x2="551.0" y2="191.6" stroke="#1a1a1a" stroke-width="0.8"/>
<line x1="533.0" y1="175.4" x2="541.0" y2="177.6" stroke="#1a1a1a" stroke-width="0.8"/>
<path d="M515.4,184.1 Q515.4,182.7 517.0,182.2 L531.0,177.2 Q533.0,176.6 535.0,177.9 L541.5,183.2 L542.3,198.4 Q542.5,200.1 540.5,200.6 L530.0,202.6 Q528.5,202.8 527.0,202.1 L517.0,199.2 Q515.6,198.8 515.6,197.1 Z" fill="white" stroke="#1a1a1a" stroke-width="1.2"/>
<path d="M516.0,183.1 L528.4,186.8 L541.5,183.6" fill="none" stroke="#1a1a1a" stroke-width="1.0"/>
<line x1="528.4" y1="186.8" x2="529.0" y2="202.4" stroke="#1a1a1a" stroke-width="1.0"/>
<ellipse cx="521.6" cy="192.5" rx="1.7" ry="1.9" fill="white" stroke="#1a1a1a" stroke-width="0.9"/>
<path d="M529.8,189.8 L535.0,188.9 L535.0,199.1 L529.8,200.2 Z" fill="none" stroke="#1a1a1a" stroke-width="0.9"/>
<line x1="437.5" y1="97.0" x2="437.5" y2="276.0" stroke="#8a8a8a" stroke-width="1"/>
<line x1="346.3" y1="366.0" x2="346.3" y2="482.8" stroke="#8a8a8a" stroke-width="1"/>
<line x1="326.4" y1="381.0" x2="346.3" y2="375.6" stroke="#555" stroke-width="0.9"/>
<line x1="439.3" y1="372.0" x2="439.3" y2="457.6" stroke="#8a8a8a" stroke-width="1"/>
</g>
</svg>
</body></html>
